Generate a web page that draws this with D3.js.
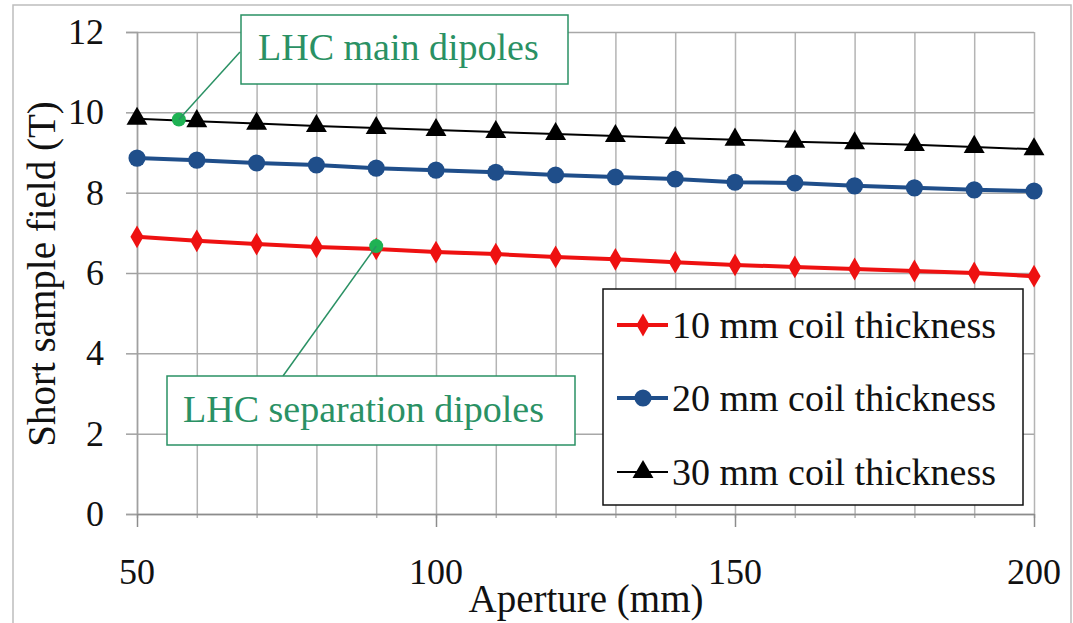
<!DOCTYPE html>
<html>
<head>
<meta charset="utf-8">
<script src="https://cdn.jsdelivr.net/npm/d3@7"></script>
</head>
<body style="margin:0">
<script>
// data
const aperture = [50, 60, 70, 80, 90, 100, 110, 120, 130, 140, 150, 160, 170, 180, 190, 200];
const field10 = [6.90, 6.80, 6.72, 6.65, 6.60, 6.52, 6.47, 6.40, 6.34, 6.27, 6.20, 6.15, 6.10, 6.05, 6.00, 5.92];
const field20 = [8.86, 8.81, 8.74, 8.69, 8.61, 8.56, 8.51, 8.44, 8.39, 8.34, 8.26, 8.24, 8.17, 8.12, 8.07, 8.04];
const field30 = [9.84, 9.78, 9.72, 9.66, 9.61, 9.56, 9.51, 9.46, 9.41, 9.36, 9.32, 9.27, 9.23, 9.19, 9.14, 9.08];
const seriesNames = ["10 mm coil thickness", "20 mm coil thickness", "30 mm coil thickness"];
const xTickLabels = [50, 100, 150, 200];
const yTickLabels = [0, 2, 4, 6, 8, 10, 12];
const notes = [
  {label: "LHC main dipoles", x: 57, y: 9.82},
  {label: "LHC separation dipoles", x: 90, y: 6.67}
];

const W = 1073, H = 623;
const margin = {top: 32, right: 39, bottom: 109, left: 137};
const width = W - margin.left - margin.right;
const height = H - margin.top - margin.bottom;
const green = "#2a9164";
const fontName = "Liberation Serif";

const svg = d3.select("body").append("svg")
  .attr("width", W)
  .attr("height", H)
  .attr("font-family", fontName);

// outer frame
svg.append("rect")
  .attr("x", 13).attr("y", 5)
  .attr("width", 1058).attr("height", 640)
  .attr("fill", "none").attr("stroke", "#bdbdbd").attr("stroke-width", 1.5);

const g = svg.append("g")
  .attr("transform", "translate(" + margin.left + "," + margin.top + ")");

const x = d3.scaleLinear().domain([50, 200]).range([0, width]);
const y = d3.scaleLinear().domain([0, 12]).range([height, 0]);

// d3 axes put font-family="sans-serif" on their group, so override it
function tidy(a, color) {
  a.attr("font-family", fontName);
  a.selectAll("line").attr("stroke", color).attr("stroke-width", 1.5);
}

// vertical gridlines every 10 mm
g.append("g")
  .attr("transform", "translate(0," + height + ")")
  .call(d3.axisBottom(x).tickValues(aperture).tickSize(-height).tickFormat(""))
  .call(a => a.select(".domain").remove())
  .call(a => tidy(a, "#b4b4b4"));

// minor ticks
g.append("g")
  .attr("transform", "translate(0," + height + ")")
  .call(d3.axisBottom(x).tickValues(aperture).tickSize(4).tickFormat(""))
  .call(a => a.select(".domain").remove())
  .call(a => tidy(a, "#b4b4b4"));

// horizontal gridlines
g.append("g")
  .call(d3.axisLeft(y).tickValues(yTickLabels).tickSize(-width).tickFormat(""))
  .call(a => a.select(".domain").remove())
  .call(a => tidy(a, "#a8a8a8"));

// y axis
g.append("g")
  .call(d3.axisLeft(y).tickValues(yTickLabels).tickSize(11).tickFormat(""))
  .call(a => a.select(".domain").attr("stroke", "#a0a0a0").attr("stroke-width", 1.5))
  .call(a => tidy(a, "#a0a0a0"));

g.selectAll(null)
  .data(yTickLabels)
  .enter().append("text")
    .attr("x", -33).attr("y", d => y(d) + 12)
    .attr("text-anchor", "end")
    .attr("font-family", fontName)
    .style("font-family", fontName)
    .attr("font-size", 36).attr("fill", "#111")
    .text(d => d);

// x axis
g.append("g")
  .attr("transform", "translate(0," + height + ")")
  .call(d3.axisBottom(x).tickValues(xTickLabels).tickSize(13).tickSizeOuter(0).tickFormat(""))
  .call(a => a.select(".domain").attr("stroke", "#8c8c8c").attr("stroke-width", 1.5))
  .call(a => tidy(a, "#8c8c8c"));

g.selectAll(null)
  .data(xTickLabels)
  .enter().append("text")
    .attr("x", d => x(d)).attr("y", height + 70)
    .attr("text-anchor", "middle")
    .attr("font-family", fontName)
    .style("font-family", fontName)
    .attr("font-size", 36).attr("fill", "#111")
    .text(d => d);

// axis titles
svg.append("text")
  .attr("x", 586).attr("y", 612)
  .attr("text-anchor", "middle")
  .attr("font-family", fontName)
  .style("font-family", fontName)
  .attr("font-size", 39)
  .attr("fill", "#111")
  .text("Aperture (mm)");

svg.append("text")
  .attr("transform", "translate(55,274) rotate(-90)")
  .attr("text-anchor", "middle")
  .attr("font-family", fontName)
  .style("font-family", fontName)
  .attr("font-size", 39)
  .attr("fill", "#111")
  .text("Short sample field (T)");

// series
const series = [
  {name: seriesNames[0], values: field10, color: "#ee1111", width: 4, symbol: d3.symbolDiamond, size: 150},
  {name: seriesNames[1], values: field20, color: "#1f4e8a", width: 4, symbol: d3.symbolCircle, size: 230},
  {name: seriesNames[2], values: field30, color: "#000000", width: 2, symbol: d3.symbolTriangle, size: 190}
];

const line = d3.line()
  .x(d => x(d[0]))
  .y(d => y(d[1]));

series.forEach(s => {
  const pts = aperture.map((a, i) => [a, s.values[i]]);
  g.append("path")
    .datum(pts)
    .attr("fill", "none")
    .attr("stroke", s.color)
    .attr("stroke-width", s.width)
    .attr("d", line);
  g.selectAll(null)
    .data(pts)
    .enter().append("path")
      .attr("transform", d => "translate(" + x(d[0]) + "," + y(d[1]) + ")")
      .attr("d", d3.symbol().type(s.symbol).size(s.size))
      .attr("fill", s.color);
});

// annotations
const boxes = [
  {x: 241, y: 15, w: 327, h: 69, tx: 258, ty: 60, lx: 240, ly: 52},
  {x: 167, y: 376, w: 408, h: 69, tx: 183, ty: 422, lx: 283, ly: 376}
];
notes.forEach((n, i) => {
  const b = boxes[i];
  svg.append("line")
    .attr("x1", b.lx).attr("y1", b.ly)
    .attr("x2", margin.left + x(n.x)).attr("y2", margin.top + y(n.y))
    .attr("stroke", green).attr("stroke-width", 1.5);
  svg.append("rect")
    .attr("x", b.x).attr("y", b.y).attr("width", b.w).attr("height", b.h)
    .attr("fill", "#fff").attr("stroke", green).attr("stroke-width", 1.5);
  svg.append("text")
    .attr("x", b.tx).attr("y", b.ty)
    .attr("font-family", fontName)
    .style("font-family", fontName)
    .attr("font-size", 38)
    .attr("fill", green)
    .text(n.label);
  g.append("circle")
    .attr("cx", x(n.x)).attr("cy", y(n.y)).attr("r", 7)
    .attr("fill", "#1fb254");
});

// legend
const legend = svg.append("g");
legend.append("rect")
  .attr("x", 603).attr("y", 289).attr("width", 420).attr("height", 216)
  .attr("fill", "#fff").attr("stroke", "#111").attr("stroke-width", 1.5);
const rowY = [325, 398, 472];
series.forEach((s, i) => {
  legend.append("line")
    .attr("x1", 617).attr("x2", 668)
    .attr("y1", rowY[i]).attr("y2", rowY[i])
    .attr("stroke", s.color).attr("stroke-width", s.width);
  legend.append("path")
    .attr("transform", "translate(643," + rowY[i] + ")")
    .attr("d", d3.symbol().type(s.symbol).size(s.size))
    .attr("fill", s.color);
  legend.append("text")
    .attr("x", 672).attr("y", rowY[i] + 13)
    .attr("font-family", fontName)
    .style("font-family", fontName)
    .attr("font-size", 38)
    .attr("fill", "#111")
    .text(s.name);
});
</script>
</body>
</html>
